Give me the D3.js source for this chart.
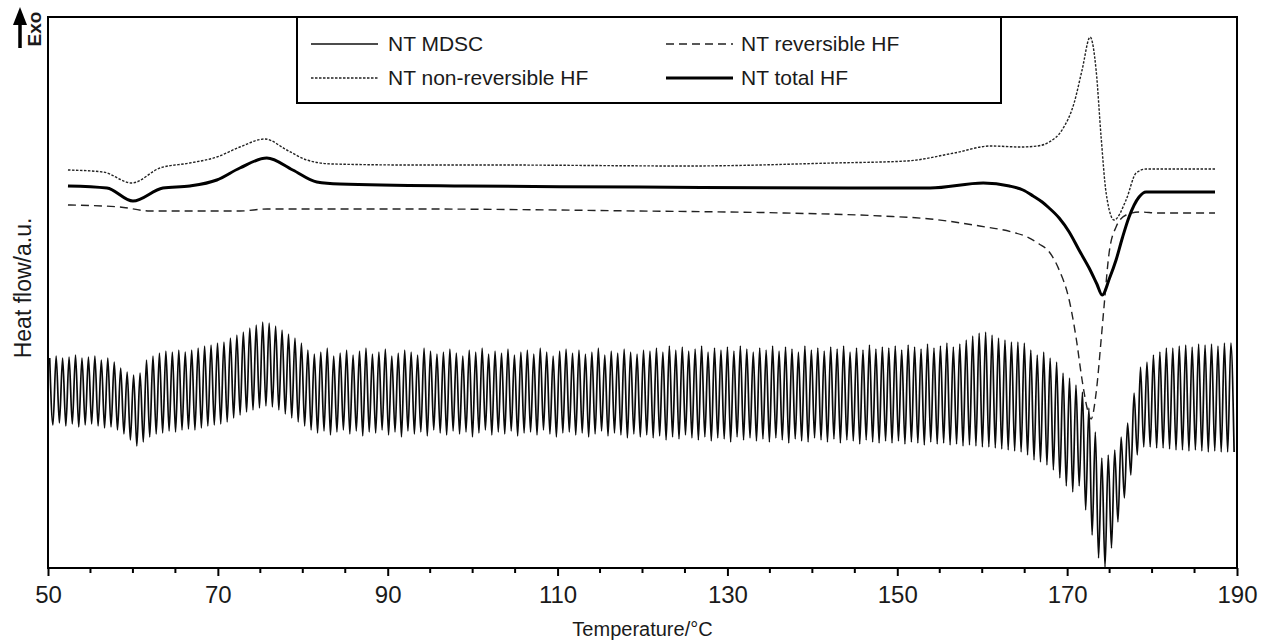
<!DOCTYPE html>
<html><head><meta charset="utf-8">
<script src="https://cdn.jsdelivr.net/npm/d3@7/dist/d3.min.js"></script>
<style>
body{margin:0;background:#fff}
svg{display:block}
text{font-family:"Liberation Sans",Arial,Helvetica,sans-serif;fill:#1a1a1a}
</style>
</head><body>
<svg id="chart" width="1270" height="640"></svg>
<script>
// ---------------- DATA ----------------
const xTickLabels = [50, 70, 90, 110, 130, 150, 170, 190];
const seriesNames = ["NT MDSC", "NT reversible HF", "NT non-reversible HF", "NT total HF"];

// MDSC modulated signal: one peak and one trough per modulation cycle
const mdscStartT = 50.2;      // °C, first peak
const mdscPeriod = 0.76;      // °C per modulation cycle
const mdscPeaks = [
 210,212,210,211,213,210,211,212,208,210,
 206,200,196,193,195,208,212,215,217,216,
 218,216,218,220,222,223,225,226,230,233,
 236,240,243,246,245,242,238,234,230,225,
 218,214,216,220,212,215,218,213,217,220,
 214,216,219,212,215,218,216,213,220,217,
 214,216,219,215,212,218,216,220,214,217,
 215,219,213,216,218,214,220,216,212,217,
 219,215,218,214,216,220,213,217,215,219,
 216,214,218,217,220,216,222,218,221,217,
 219,222,216,220,218,221,217,222,219,216,
 220,218,222,217,221,219,216,222,218,220,
 217,221,219,222,216,220,218,223,219,221,
 220,222,218,223,221,219,224,220,222,225,
 221,224,228,232,235,236,233,230,228,226,
 226,225,218,213,216,210,206,195,190,183,
 176,160,136,110,113,118,131,145,175,201,
 206,213,216,220,220,222,223,221,224,223,
 224,222,225,225
];
const mdscTroughs = [
 143,145,142,144,141,143,144,142,140,141,
 138,134,128,122,126,131,134,135,137,136,
 138,139,138,140,142,143,144,146,150,153,
 156,158,160,162,161,158,154,150,146,142,
 138,135,137,133,136,138,134,137,132,136,
 135,138,133,136,131,137,134,136,132,138,
 135,133,137,134,136,131,135,138,133,136,
 134,137,132,135,136,133,138,134,131,135,
 136,133,135,131,134,137,132,135,133,130,
 134,131,133,130,132,128,131,129,133,130,
 128,131,127,130,129,126,131,128,130,127,
 129,126,130,128,125,129,127,126,130,128,
 126,129,125,128,127,124,128,126,125,127,
 125,127,124,126,125,123,126,124,125,123,
 124,122,123,122,121,121,120,119,118,117,
 116,113,108,106,103,98,90,82,76,82,
 58,33,10,1,20,46,70,93,113,121,
 121,120,120,119,118,118,117,118,117,116,
 117,116,116,116
];

// Reversible heat flow [T °C, a.u.]
const reversibleHF = [
 [52.35,363],[58.47,361],[62.0,357],[72.6,357],[75.8,359],[84.4,359],[92.8,359],
 [119.7,357],[136.7,355],[148.2,352],[153.9,349],[159.7,342],[163.5,336],[165.3,331],
 [166.7,324],[167.9,316],[169.06,298],[170.24,268],[171.06,230],[171.76,188],
 [172.35,160],[172.82,149],[173.41,175],[174.0,228],[174.35,262],[174.94,315],
 [175.76,341],[176.94,353],[178.47,356],[180.82,355],[187.41,355]
];
// Non-reversible heat flow
const nonReversibleHF = [
 [52.35,398],[56.47,396],[59.88,385],[63.18,400],[66.7,405],[69.88,411],[72.59,421],
 [75.53,429],[78.12,418],[80.47,408],[83.53,404],[92.8,403],[102.5,403],[125.3,402],
 [142.5,405],[151.1,407],[156.7,415],[161.0,422],[164.5,421],[166.5,422],[167.9,426],
 [169.4,438],[170.82,465],[171.76,498],[172.71,531],[173.41,498],[174.0,431],
 [174.59,375],[175.53,348],[176.94,368],[178.12,395],[179.29,399],[187.41,399]
];
// Total heat flow
const totalHF = [
 [52.35,382],[56.94,380],[60.0,367],[63.53,380],[66.7,382],[69.88,388],[72.59,400],
 [75.76,410],[78.82,398],[81.65,386],[84.35,384],[99.06,382],[119.65,381],[144.24,380],
 [153.88,380],[160.12,385],[163.2,382],[164.8,378],[166.0,372],[167.06,366],
 [167.88,360],[169.06,350],[170.24,336],[171.4,318],[172.59,300],[173.5,284],
 [174.12,273],[175.0,290],[175.76,308],[176.5,330],[177.29,351],[178.47,371],
 [179.29,376],[187.41,376]
];

// ---------------- CHART ----------------
const svg = d3.select("#chart");
const L = 48, R = 1237, T = 17, B = 568;
const x = d3.scaleLinear().domain([50, 190]).range([L, R]);
const y = d3.scaleLinear().domain([0, 551]).range([B, T]);

svg.append("defs").append("clipPath").attr("id", "plotClip")
  .append("rect").attr("x", L).attr("y", T).attr("width", R - L).attr("height", B - T);

const mdsc = [];
mdscPeaks.forEach((p, i) => {
  mdsc.push([mdscStartT + i * mdscPeriod, p]);
  if (i < mdscTroughs.length) mdsc.push([mdscStartT + (i + 0.5) * mdscPeriod, mdscTroughs[i]]);
});

const line = d3.line().x(d => x(d[0])).y(d => y(d[1])).curve(d3.curveMonotoneX);
const g = svg.append("g").attr("clip-path", "url(#plotClip)");

g.append("path").datum(mdsc).attr("d", line)
  .attr("fill", "none").attr("stroke", "#0a0a0a").attr("stroke-width", 1.7);
g.append("path").datum(reversibleHF).attr("d", line)
  .attr("fill", "none").attr("stroke", "#222").attr("stroke-width", 1.4)
  .attr("stroke-dasharray", "8,5");
g.append("path").datum(nonReversibleHF).attr("d", line)
  .attr("fill", "none").attr("stroke", "#222").attr("stroke-width", 1.4)
  .attr("stroke-dasharray", "2.5,1.5");
g.append("path").datum(totalHF).attr("d", line)
  .attr("fill", "none").attr("stroke", "#000").attr("stroke-width", 3);

// Frame
svg.append("rect").attr("x", L).attr("y", T).attr("width", R - L).attr("height", B - T)
  .attr("fill", "none").attr("stroke", "#000").attr("stroke-width", 2);

// X axis ticks
const minor = x.ticks(28).filter(v => !xTickLabels.includes(v));
svg.append("g").selectAll("line.minor").data(minor).join("line")
  .attr("x1", d => x(d)).attr("x2", d => x(d)).attr("y1", B).attr("y2", B + 5)
  .attr("stroke", "#000").attr("stroke-width", 2);
const xAxis = d3.axisBottom(x).tickValues(xTickLabels).tickSize(8).tickPadding(10)
  .tickFormat(d3.format("d"));
const xa = svg.append("g").attr("transform", `translate(0,${B})`).call(xAxis);
xa.select(".domain").remove();
xa.selectAll(".tick line").attr("stroke", "#000").attr("stroke-width", 2);
xa.selectAll(".tick text").attr("font-size", 24).attr("fill", "#1a1a1a")
  .attr("font-family", "'Liberation Sans',Arial,sans-serif");

// Axis titles
svg.append("text").attr("x", (L + R) / 2).attr("y", 636).attr("text-anchor", "middle")
  .attr("font-size", 20).text("Temperature/°C");
svg.append("text").attr("transform", "translate(31,288) rotate(-90)")
  .attr("text-anchor", "middle").attr("font-size", 23).text("Heat flow/a.u.");

// Exo arrow
svg.append("line").attr("x1", 20).attr("x2", 20).attr("y1", 48).attr("y2", 20)
  .attr("stroke", "#000").attr("stroke-width", 3.5);
svg.append("path").attr("d", "M13,25 L20,7 L27,25 Z").attr("fill", "#000");
svg.append("text").attr("transform", "translate(41,29) rotate(-90)")
  .attr("text-anchor", "middle").attr("font-size", 19).attr("font-weight", "bold").text("Exo");

// Legend
const lg = svg.append("g");
lg.append("rect").attr("x", 297).attr("y", T).attr("width", 1001 - 297).attr("height", 103 - T)
  .attr("fill", "#fff").attr("stroke", "#000").attr("stroke-width", 2);
const legendItems = [
  {name: seriesNames[0], col: 0, row: 0, stroke: "#111", w: 1.5, dash: null},
  {name: seriesNames[1], col: 1, row: 0, stroke: "#222", w: 1.4, dash: "8,5"},
  {name: seriesNames[2], col: 0, row: 1, stroke: "#222", w: 1.4, dash: "2.5,1.5"},
  {name: seriesNames[3], col: 1, row: 1, stroke: "#000", w: 3, dash: null}
];
const colX = [[311, 378, 388], [666, 733, 741]];
const rowY = [44, 78];
legendItems.forEach(it => {
  const cx = colX[it.col], cy = rowY[it.row];
  lg.append("line").attr("x1", cx[0]).attr("x2", cx[1]).attr("y1", cy).attr("y2", cy)
    .attr("stroke", it.stroke).attr("stroke-width", it.w)
    .attr("stroke-dasharray", it.dash);
  lg.append("text").attr("x", cx[2]).attr("y", cy + 7).attr("font-size", 21).text(it.name);
});
</script>
</body></html>
